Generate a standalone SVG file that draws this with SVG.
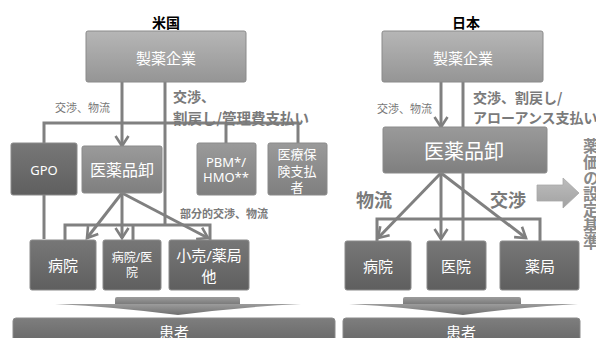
<svg xmlns="http://www.w3.org/2000/svg" width="596" height="338" viewBox="0 0 596 338">
<defs>
<linearGradient id="gLight" x1="0" y1="0" x2="0" y2="1"><stop offset="0" stop-color="#b6b6b6"/><stop offset="1" stop-color="#959595"/></linearGradient>
<linearGradient id="gMid" x1="0" y1="0" x2="0" y2="1"><stop offset="0" stop-color="#9a9a9a"/><stop offset="1" stop-color="#7f7f7f"/></linearGradient>
<linearGradient id="gDark" x1="0" y1="0" x2="0" y2="1"><stop offset="0" stop-color="#777777"/><stop offset="1" stop-color="#5f5f5f"/></linearGradient>
<linearGradient id="gPat" x1="0" y1="0" x2="0" y2="1"><stop offset="0" stop-color="#7e7e7e"/><stop offset="1" stop-color="#636363"/></linearGradient>
<linearGradient id="gChev" x1="0" y1="0" x2="0" y2="1"><stop offset="0" stop-color="#9c9c9c"/><stop offset="1" stop-color="#6e6e6e"/></linearGradient>
<linearGradient id="gBlk" x1="0" y1="0" x2="0" y2="1"><stop offset="0" stop-color="#bdbdbd"/><stop offset="1" stop-color="#a2a2a2"/></linearGradient>
<marker id="ah" markerUnits="userSpaceOnUse" markerWidth="16" markerHeight="16" refX="12" refY="8" orient="auto">
<path d="M2,1.5 L12,8 L2,14.5" fill="none" stroke="#7f7f7f" stroke-width="2.6"/>
</marker>
</defs>
<style>
.ln{stroke:#808080;stroke-width:3;fill:none}
.ar{stroke:#808080;stroke-width:3;fill:none;marker-end:url(#ah)}
.bx{stroke:#8a8a8a;stroke-width:1}
.t{font-family:"Noto Sans","Noto Sans CJK JP",sans-serif;fill:#ffffff;text-anchor:middle;dominant-baseline:central}
.ttl{font-family:"Noto Sans CJK JP",sans-serif;font-weight:bold;font-size:14px;fill:#000;text-anchor:middle;dominant-baseline:central}
.lb{font-family:"Noto Sans CJK JP",sans-serif;fill:#777777;font-size:11px;dominant-baseline:central}
.lbb{font-family:"Noto Sans CJK JP",sans-serif;fill:#7a7a7a;font-weight:bold;dominant-baseline:central}
</style>

<g id="connectors">
<line class="ar" x1="122" y1="82" x2="122" y2="146"/>
<line class="ln" x1="165" y1="82" x2="165" y2="225"/>
<polyline class="ln" points="44,143 44,123 298,123 298,143"/>
<line class="ln" x1="226" y1="123" x2="226" y2="143"/>
<line class="ln" x1="44" y1="195" x2="44" y2="239"/>
<polyline class="ln" points="65,240 65,225 210,225 210,240"/>
<line class="ln" x1="133" y1="225" x2="133" y2="240"/>
<line class="ar" x1="122" y1="193" x2="87" y2="238"/>
<line class="ar" x1="122" y1="193" x2="122" y2="238"/>
<line class="ar" x1="122" y1="193" x2="208" y2="238"/>
<line class="ar" x1="441" y1="82" x2="441" y2="127"/>
<line class="ln" x1="463" y1="82" x2="463" y2="127"/>
<line class="ln" x1="463" y1="172" x2="463" y2="241"/>
<polyline class="ln" points="377,241 377,219 540,219 540,241"/>
<line class="ar" x1="441" y1="173" x2="378" y2="238"/>
<line class="ar" x1="441" y1="173" x2="441" y2="239"/>
<line class="ar" x1="441" y1="173" x2="526" y2="238"/>
</g>

<text class="ttl" x="166" y="22">米国</text>
<text class="ttl" x="466" y="22">日本</text>

<text class="lb" x="55" y="107">交渉、物流</text>
<text class="lbb" x="173" y="96" font-size="14">交渉、</text>
<text class="lbb" x="173" y="117" font-size="14.5">割戻し/管理費支払い</text>
<text class="lbb" x="180" y="213" font-size="11">部分的交渉、物流</text>
<text class="lb" x="377" y="108">交渉、物流</text>
<text class="lbb" x="473" y="97" font-size="14">交渉、割戻し/</text>
<text class="lbb" x="473" y="117" font-size="14">アローアンス支払い</text>
<text class="lbb" x="356" y="199" font-size="18">物流</text>
<text class="lbb" x="490" y="199" font-size="18">交渉</text>

<g id="us-maker"><rect class="bx" x="86" y="31" width="160" height="51" rx="2" fill="url(#gLight)"/><text class="t" x="166" y="58" font-size="15">製薬企業</text></g>
<g id="us-gpo"><rect class="bx" x="11" y="143" width="66" height="52" rx="2" fill="url(#gDark)"/><text class="t" x="44" y="170" font-size="13">GPO</text></g>
<g id="us-wholesale"><rect class="bx" x="82" y="146" width="80" height="47" rx="2" fill="url(#gMid)"/><text class="t" x="122" y="170" font-size="16">医薬品卸</text></g>
<g id="us-pbm"><rect class="bx" x="197" y="143" width="59" height="52" rx="2" fill="url(#gMid)"/><text class="t" x="226" y="162" font-size="13">PBM*/</text><text class="t" x="226" y="177" font-size="13">HMO**</text></g>
<g id="us-payer"><rect class="bx" x="268" y="143" width="59" height="52" rx="2" fill="url(#gMid)"/><text class="t" x="297" y="154" font-size="13">医療保</text><text class="t" x="297" y="171" font-size="13">険支払</text><text class="t" x="297" y="187" font-size="13">者</text></g>
<g id="us-hospital"><rect class="bx" x="30" y="240" width="66" height="50" rx="2" fill="url(#gDark)"/><text class="t" x="63" y="265" font-size="15">病院</text></g>
<g id="us-clinic"><rect class="bx" x="103" y="240" width="58" height="50" rx="2" fill="url(#gDark)"/><text class="t" x="132" y="257" font-size="12">病院/医</text><text class="t" x="132" y="272" font-size="12">院</text></g>
<g id="us-retail"><rect class="bx" x="169" y="240" width="80" height="50" rx="2" fill="url(#gDark)"/><text class="t" x="209" y="255" font-size="15">小売/薬局</text><text class="t" x="209" y="276" font-size="15">他</text></g>
<g id="us-flow"><rect x="115" y="297" width="125" height="10" rx="2" fill="url(#gChev)"/><path d="M55,304 L301,304 Q240,307 178,315 Q116,307 55,304 Z" fill="url(#gChev)"/></g>
<g id="us-patient"><rect class="bx" x="13" y="318" width="322" height="30" rx="3" fill="url(#gPat)"/><text class="t" x="174" y="332" font-size="15">患者</text></g>

<g id="jp-maker"><rect class="bx" x="382" y="31" width="161" height="51" rx="2" fill="url(#gLight)"/><text class="t" x="463" y="58" font-size="15">製薬企業</text></g>
<g id="jp-wholesale"><rect class="bx" x="383" y="127" width="164" height="46" rx="2" fill="url(#gMid)"/><text class="t" x="464" y="151" font-size="20">医薬品卸</text></g>
<g id="jp-hospital"><rect class="bx" x="345" y="241" width="66" height="49" rx="2" fill="url(#gDark)"/><text class="t" x="378" y="266" font-size="15">病院</text></g>
<g id="jp-clinic"><rect class="bx" x="427" y="241" width="59" height="49" rx="2" fill="url(#gDark)"/><text class="t" x="456" y="266" font-size="15">医院</text></g>
<g id="jp-pharmacy"><rect class="bx" x="500" y="241" width="79" height="49" rx="2" fill="url(#gDark)"/><text class="t" x="540" y="266" font-size="15">薬局</text></g>
<g id="jp-flow"><rect x="403" y="297" width="118" height="10" rx="2" fill="url(#gChev)"/><path d="M349,304 L578,304 Q520,307 463,315 Q406,307 349,304 Z" fill="url(#gChev)"/></g>
<g id="jp-patient"><rect class="bx" x="343" y="318" width="237" height="30" rx="3" fill="url(#gPat)"/><text class="t" x="461" y="332" font-size="15">患者</text></g>
<g id="jp-arrow"><polygon points="537,185 563,185 563,178 579,193 563,208 563,201 537,201" fill="url(#gBlk)" stroke="#a8a8a8" stroke-width="0.8"/></g>
<text x="591" y="138" font-family="Noto Sans CJK JP, sans-serif" font-weight="bold" font-size="16" fill="#8a8a8a" writing-mode="vertical-rl">薬価の設定基準</text>
</svg>
